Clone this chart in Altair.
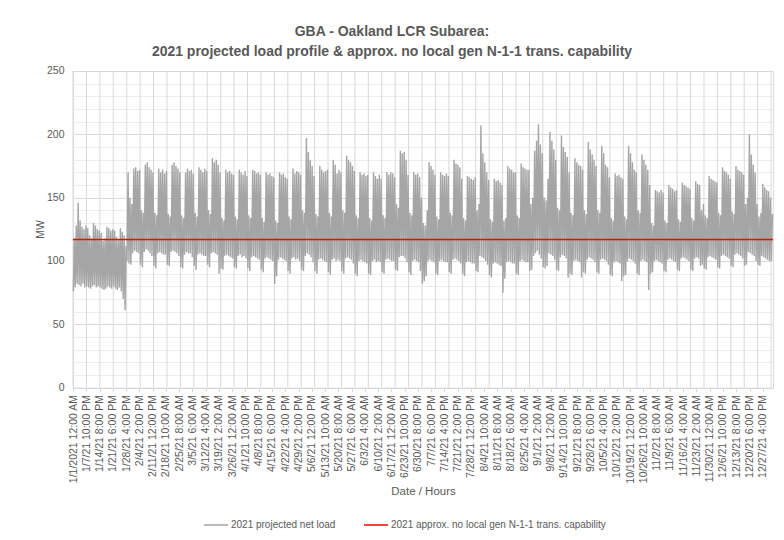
import altair as alt
import pandas as pd

TITLE = ["GBA - Oakland LCR Subarea:",
         "2021 projected load profile & approx. no local gen N-1-1 trans. capability"]
SERIES = ["2021 projected net load", "2021 approx. no local gen N-1-1 trans. capability"]
CAPABILITY_MW = [117]

HOURS = 8760
LABEL_STEP = 166
GRID_STEP = 168

X_LABELS = [
    "1/1/2021 12:00 AM", "1/7/21 10:00 PM", "1/14/21 8:00 PM", "1/21/21 6:00 PM",
    "1/28/21 4:00 PM", "2/4/21 2:00 PM", "2/11/21 12:00 PM", "2/18/21 10:00 AM",
    "2/25/21 8:00 AM", "3/5/21 6:00 AM", "3/12/21 4:00 AM", "3/19/21 2:00 AM",
    "3/26/21 12:00 AM", "4/1/21 10:00 PM", "4/8/21 8:00 PM", "4/15/21 6:00 PM",
    "4/22/21 4:00 PM", "4/29/21 2:00 PM", "5/6/21 12:00 PM", "5/13/21 10:00 AM",
    "5/20/21 8:00 AM", "5/27/21 6:00 AM", "6/3/21 4:00 AM", "6/10/21 2:00 AM",
    "6/17/21 12:00 AM", "6/23/21 10:00 PM", "6/30/21 8:00 PM", "7/7/21 6:00 PM",
    "7/14/21 4:00 PM", "7/21/21 2:00 PM", "7/28/21 12:00 PM", "8/4/21 10:00 AM",
    "8/11/21 8:00 AM", "8/18/21 6:00 AM", "8/25/21 4:00 AM", "9/1/21 2:00 AM",
    "9/8/21 12:00 AM", "9/14/21 10:00 PM", "9/21/21 8:00 PM", "9/28/21 6:00 PM",
    "10/5/21 4:00 PM", "10/12/21 2:00 PM", "10/19/21 12:00 PM", "10/26/21 10:00 AM",
    "11/2/21 8:00 AM", "11/9/21 6:00 AM", "11/16/21 4:00 AM", "11/23/21 2:00 AM",
    "11/30/21 12:00 AM", "12/6/21 10:00 PM", "12/13/21 8:00 PM", "12/20/21 6:00 PM",
    "12/27/21 4:00 PM",
]

# daily evening peaks (MW), one row per week-long grid interval
DAILY_PEAK = [
    118, 128, 146, 132, 127, 125, 128,
    126, 120, 118, 130, 128, 125, 124,
    122, 116, 118, 127, 126, 124, 125,
    124, 119, 117, 126, 123, 120, 112,
    170, 150, 145, 173, 174, 171, 172,
    140, 138, 176, 178, 174, 172, 170,
    138, 136, 173, 170, 172, 169, 171,
    137, 135, 176, 178, 175, 173, 170,
    136, 134, 170, 173, 171, 172, 169,
    138, 135, 174, 172, 170, 173, 171,
    140, 137, 181, 178, 180, 176, 170,
    134, 132, 172, 170, 171, 169, 168,
    135, 133, 172, 170, 168, 171, 167,
    136, 134, 172, 171, 169, 170, 168,
    134, 131, 170, 168, 169, 167, 166,
    132, 130, 170, 168, 169, 166, 165,
    135, 133, 173, 169, 171, 170, 168,
    140, 138, 197, 186, 180, 175, 167,
    137, 135, 175, 172, 170, 171, 172,
    138, 135, 180, 176, 169, 172, 170,
    140, 138, 183, 180, 178, 175, 171,
    136, 134, 170, 168, 169, 167, 168,
    134, 132, 170, 167, 165, 168, 165,
    136, 134, 170, 168, 170, 169, 166,
    145, 142, 187, 185, 186, 180, 168,
    138, 136, 170, 168, 169, 166, 150,
    130, 128, 140, 178, 175, 172, 168,
    135, 133, 170, 168, 167, 169, 167,
    138, 136, 180, 177, 176, 174, 165,
    134, 132, 167, 166, 165, 164, 166,
    140, 145, 207, 185, 178, 170, 164,
    133, 131, 165, 163, 164, 162, 160,
    132, 134, 175, 173, 172, 170, 170,
    136, 134, 177, 174, 173, 172, 172,
    145, 150, 187, 195, 208, 192, 185,
    150, 148, 165, 202, 195, 188, 180,
    142, 140, 199, 190, 186, 182, 170,
    138, 136, 181, 178, 176, 175, 172,
    140, 137, 194, 188, 184, 180, 175,
    140, 138, 191, 185, 176, 174, 166,
    134, 132, 169, 167, 168, 166, 165,
    135, 133, 191, 185, 178, 172, 170,
    140, 138, 184, 180, 176, 172, 160,
    130, 128, 156, 155, 154, 156, 154,
    132, 130, 160, 158, 157, 155, 156,
    133, 131, 162, 160, 159, 158, 157,
    134, 132, 163, 161, 160, 140, 145,
    136, 134, 167, 165, 164, 163, 162,
    138, 136, 174, 171, 170, 168, 165,
    139, 137, 175, 172, 171, 170, 168,
    145, 150, 200, 184, 176, 170, 145,
    135, 138, 161, 158, 156, 155, 150,
    137,
]

# daily early-morning lows (MW)
DAILY_LOW = [
    76, 79, 82, 81, 80, 82, 79,
    80, 79, 78, 80, 81, 79, 80,
    79, 78, 77, 78, 80, 79, 78,
    80, 78, 77, 79, 76, 70, 61,
    100, 98, 97, 106, 108, 107, 106,
    97, 95, 107, 109, 108, 106, 104,
    96, 94, 106, 107, 106, 105, 105,
    97, 96, 107, 108, 107, 106, 104,
    95, 94, 105, 107, 106, 106, 103,
    96, 93, 105, 106, 105, 104, 104,
    97, 95, 106, 107, 106, 105, 90,
    94, 93, 104, 105, 104, 103, 102,
    95, 94, 104, 105, 103, 104, 102,
    94, 92, 103, 104, 103, 102, 101,
    93, 91, 102, 103, 102, 101, 100,
    82, 88, 101, 103, 102, 101, 100,
    92, 90, 102, 103, 101, 102, 100,
    93, 92, 104, 106, 105, 103, 99,
    92, 90, 101, 102, 101, 100, 99,
    91, 89, 101, 102, 100, 101, 100,
    92, 90, 102, 103, 102, 101, 98,
    90, 88, 100, 101, 100, 99, 98,
    90, 89, 100, 101, 99, 100, 99,
    91, 90, 101, 102, 101, 100, 100,
    93, 92, 103, 104, 104, 102, 99,
    91, 89, 100, 101, 100, 99, 92,
    82, 84, 88, 100, 101, 100, 99,
    90, 89, 100, 101, 100, 99, 99,
    91, 90, 101, 102, 101, 100, 98,
    90, 88, 99, 100, 99, 98, 98,
    92, 91, 104, 103, 102, 100, 97,
    89, 87, 98, 99, 98, 97, 96,
    75, 86, 99, 100, 99, 98, 98,
    90, 89, 100, 101, 100, 99, 99,
    92, 93, 104, 106, 108, 105, 102,
    95, 94, 96, 106, 105, 104, 101,
    93, 92, 103, 105, 104, 102, 87,
    90, 89, 100, 101, 100, 99, 87,
    91, 90, 101, 103, 102, 101, 99,
    91, 90, 101, 102, 101, 100, 97,
    89, 88, 99, 100, 99, 98, 84,
    88, 89, 100, 102, 101, 100, 98,
    90, 89, 100, 101, 100, 99, 77,
    90, 91, 100, 101, 100, 99, 98,
    92, 91, 101, 102, 101, 100, 99,
    93, 92, 102, 103, 102, 101, 100,
    93, 92, 102, 103, 102, 96, 97,
    94, 93, 103, 104, 103, 102, 101,
    95, 94, 104, 105, 104, 103, 102,
    96, 95, 105, 106, 105, 104, 102,
    96, 97, 107, 106, 105, 104, 100,
    97, 96, 104, 103, 102, 101, 100,
    100,
]

FONT = "Liberation Sans"
TEXT = "#595959"
GRID = "#d9d9d9"

rows = []
for d, (lo, hi) in enumerate(zip(DAILY_LOW, DAILY_PEAK)):
    rows.append({"hour": d * 24 + 4, "mw": lo, "series": SERIES[0]})
    rows.append({"hour": d * 24 + 17, "mw": hi, "series": SERIES[0]})
load = pd.DataFrame(rows)
cap = pd.DataFrame({"mw": CAPABILITY_MW, "series": [SERIES[1]]})
vgrid = pd.DataFrame({"hour": list(range(0, HOURS, GRID_STEP))})

label_values = [k * LABEL_STEP for k in range(len(X_LABELS))]
label_array = "[" + ",".join("'" + s + "'" for s in X_LABELS) + "]"

x_scale = alt.Scale(domain=[0, HOURS], nice=False, zero=False)
y_scale = alt.Scale(domain=[0, 250], nice=False)

x_enc = alt.X(
    "hour:Q", scale=x_scale, title="Date / Hours",
    axis=alt.Axis(
        values=label_values, grid=False, domain=False,
        labelExpr=label_array + "[round(datum.value / " + str(LABEL_STEP) + ")]",
        labelAngle=-90, labelAlign="right", labelBaseline="middle",
        labelFont=FONT, labelFontSize=10.5, labelColor=TEXT, labelPadding=3,
        labelOverlap=False, labelFlush=False, labelBound=False,
        ticks=True, tickSize=4, tickColor=GRID,
        titleFont=FONT, titleFontSize=11.5, titleFontWeight="normal",
        titleColor=TEXT, titleY=98, titleBaseline="top",
    ),
)

y_enc = alt.Y(
    "mw:Q", scale=y_scale, title="MW",
    axis=alt.Axis(
        values=list(range(0, 251, 10)), domain=False, ticks=False,
        labelExpr="datum.value % 50 === 0 ? datum.label : ''",
        labelOverlap=False, labelFlush=False, labelBound=False,
        gridColor={"condition": {"test": "datum.value % 50 === 0", "value": GRID},
                   "value": "#eeeeee"},
        labelFont=FONT, labelFontSize=10.5, labelColor=TEXT, labelPadding=9,
        titleFont=FONT, titleFontSize=10.5, titleFontWeight="normal",
        titleColor=TEXT, titleAngle=-90, titleX=-28, titleY=158,
        titleAlign="center", titleBaseline="bottom",
    ),
)

color = alt.Color(
    "series:N",
    scale=alt.Scale(domain=SERIES, range=["#a5a5a5", "#ff0000"]),
    legend=alt.Legend(
        title=None, orient="none", direction="horizontal",
        legendX=130, legendY=441, symbolType="stroke", symbolSize=576,
        symbolStrokeWidth=1.5, labelFont=FONT, labelFontSize=10,
        labelColor=TEXT, columnPadding=25, labelOffset=2, labelLimit=0,
    ),
)

grid_layer = alt.Chart(vgrid).mark_rule(color=GRID, strokeWidth=1).encode(
    x=x_enc
)

line_layer = alt.Chart(load).mark_line(strokeWidth=1.4, interpolate="linear").encode(
    x=x_enc,
    y=y_enc,
    color=color,
)

cap_layer = alt.Chart(cap).mark_rule(strokeWidth=1.5).encode(
    y=y_enc,
    color=color,
)

chart = alt.layer(grid_layer, line_layer, cap_layer).properties(
    width=700,
    height=316.6,
    autosize=alt.AutoSizeParams(type="none"),
    padding={"left": 65, "top": 63, "right": 3, "bottom": 144},
    title=alt.TitleParams(
        text=TITLE, font=FONT, fontSize=14, fontWeight="bold", color=TEXT,
        anchor="middle", frame="group", dx=-31, dy=1, offset=8, lineHeight=20,
    ),
).configure_view(stroke=None).configure(background="white")

chart.save("out.html", embed_options={"renderer": "svg", "actions": False})
